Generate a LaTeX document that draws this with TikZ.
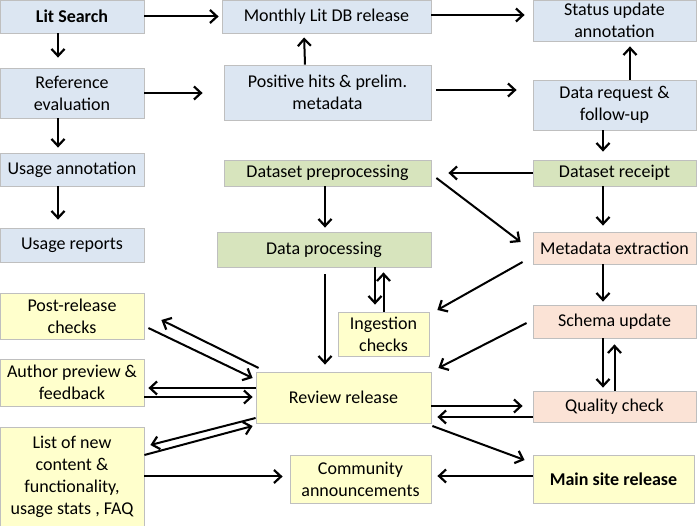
\documentclass[tikz,border=0pt]{standalone}
\usepackage{fontspec}
\setmainfont{Carlito}
\usetikzlibrary{arrows.meta}
\definecolor{bbl}{HTML}{DCE6F2}
\definecolor{bgr}{HTML}{D7E4BD}
\definecolor{bpe}{HTML}{FBE3D6}
\definecolor{bye}{HTML}{FFFFCC}
\definecolor{bdr}{HTML}{BFBFBF}
\tikzset{
  box/.style={draw=bdr, line width=0.8pt, inner sep=0pt, align=center,
    font=\fontsize{18}{22}\selectfont},
  bl/.style={box, fill=bbl}, gr/.style={box, fill=bgr},
  pe/.style={box, fill=bpe}, ye/.style={box, fill=bye},
  arr/.style={line width=2pt, -{Straight Barb[length=7pt,width=13pt,line width=2.2pt]}}
}
\begin{document}
\begin{tikzpicture}[x=1pt,y=-1pt]
\useasboundingbox (0,0) rectangle (697,526);
% nodes
\node[bl, minimum width=144pt, minimum height=33pt, font=\fontsize{18}{22}\selectfont\bfseries] (lit) at (72,16.5) {Lit Search};
\node[bl, minimum width=209pt, minimum height=33pt] (monthly) at (326.5,16.5) {Monthly Lit DB release};
\node[bl, minimum width=163pt, minimum height=41pt] (status) at (614.5,20.5) {Status update\\annotation};
\node[bl, minimum width=144pt, minimum height=50pt] (refev) at (72,93) {Reference\\evaluation};
\node[bl, minimum width=207pt, minimum height=55pt] (poshits) at (327.5,92.5) {Positive hits \& prelim.\\metadata};
\node[bl, minimum width=163pt, minimum height=50pt] (datareq) at (614.5,105) {Data request \&\\follow-up};
\node[bl, minimum width=144pt, minimum height=33pt] (usageann) at (72,169.5) {Usage annotation};
\node[gr, minimum width=207pt, minimum height=26pt] (dsprep) at (327.5,173) {Dataset preprocessing};
\node[gr, minimum width=163pt, minimum height=26pt] (dsreceipt) at (614.5,173) {Dataset receipt};
\node[bl, minimum width=144pt, minimum height=34pt] (usagerep) at (72,245) {Usage reports};
\node[gr, minimum width=214pt, minimum height=35pt] (dataproc) at (324,249.5) {Data processing};
\node[pe, minimum width=163pt, minimum height=32pt] (metaext) at (614.5,248) {Metadata extraction};
\node[ye, minimum width=144pt, minimum height=46pt] (postrel) at (72,316) {Post-release\\checks};
\node[ye, minimum width=91pt, minimum height=44pt] (ingest) at (383.5,334) {Ingestion\\checks};
\node[pe, minimum width=163pt, minimum height=33pt] (schema) at (614.5,321.5) {Schema update};
\node[ye, minimum width=144pt, minimum height=47pt] (author) at (72,382.5) {Author preview \&\\feedback};
\node[ye, minimum width=175pt, minimum height=51pt] (review) at (343.5,397.5) {Review release};
\node[pe, minimum width=163pt, minimum height=31pt] (quality) at (614.5,406.5) {Quality check};
\node[ye, minimum width=144pt, minimum height=99pt] (list) at (72,476.5) {List of new\\content \&\\functionality,\\usage stats , FAQ};
\node[ye, minimum width=141pt, minimum height=48pt] (community) at (360.5,479) {Community\\announcements};
\node[ye, minimum width=161pt, minimum height=48pt, font=\fontsize{18}{22}\selectfont\bfseries] (mainsite) at (613.5,479) {Main site release};
% connectors
\draw[arr, shorten >=3pt] (lit.east) -- (monthly.west);
\draw[arr, shorten >=10pt] ([xshift=-14pt]lit.south) -- ([xshift=-14pt]refev.north);
\draw[arr, shorten >=21pt] (refev.east) -- (refev.east -| poshits.west);
\draw[arr, shorten >=4pt] ([xshift=-22.5pt]poshits.north) -- ([xshift=-22.5pt]monthly.south);
\draw[arr, shorten >=8pt] ([yshift=1.5pt]monthly.east) -- ([yshift=1.5pt]monthly.east -| status.west);
\draw[arr, shorten <=5pt, shorten >=16pt] ([yshift=2.5pt]poshits.east) -- ([yshift=2.5pt]poshits.east -| datareq.west);
\draw[arr, shorten >=5pt] ([xshift=15.5pt]datareq.north) -- ([xshift=15.5pt]status.south);
\draw[arr, shorten >=8pt] ([xshift=-11.5pt]datareq.south) -- ([xshift=-11.5pt]dsreceipt.north);
\draw[arr, shorten >=5pt] ([xshift=-14pt]refev.south) -- ([xshift=-14pt]usageann.north);
\draw[arr, shorten >=8pt] ([xshift=-14pt]usageann.south) -- ([xshift=-14pt]usagerep.north);
\draw[arr, shorten >=17pt] (dsreceipt.west) -- (dsprep.east);
\draw[arr, shorten >=6pt] ([xshift=-11.5pt]dsreceipt.south) -- ([xshift=-11.5pt]metaext.north);
\draw[arr] ([shift={(5pt,-5pt)}]dsprep.east) -- ([shift={(-12pt,6pt)}]metaext.west);
\draw[arr, shorten >=4pt] ([xshift=-2.5pt]dsprep.south) -- ([xshift=-2.5pt]dsprep.south |- dataproc.north);
\draw[arr, shorten <=7pt, shorten >=7pt] ([xshift=1pt]dataproc.south) -- ([xshift=1pt]dataproc.south |- review.north);
\draw[arr, shorten >=7pt] ([xshift=51pt]dataproc.south) -- ([xshift=-8.5pt]ingest.north);
\draw[arr, shorten >=5pt] (ingest.north) -- ([xshift=59.5pt]dataproc.south);
\draw[arr] ([shift={(-10pt,-14pt)}]metaext.west) -- ([shift={(8pt,24pt)}]ingest.east);
\draw[arr, shorten >=3pt] ([xshift=-11.5pt]metaext.south) -- ([xshift=-11.5pt]schema.north);
\draw[arr] ([shift={(-6pt,-1.5pt)}]schema.west) -- ([shift={(7pt,29.5pt)}]review.east);
\draw[arr, shorten >=3pt] ([xshift=-11.5pt]schema.south) -- ([xshift=-11.5pt]quality.north);
\draw[arr, shorten >=6pt] (quality.north) -- (schema.south);
\draw[arr, shorten >=10pt] ([yshift=-8.5pt]review.east) -- ([yshift=-8.5pt]review.east -| quality.west);
\draw[arr, shorten >=6pt] ([yshift=-10.5pt]quality.west) -- ([yshift=-10.5pt]quality.west -| review.east);
\draw[arr] ([shift={(1pt,-28.5pt)}]review.east) -- ([shift={(-8pt,19pt)}]mainsite.west);
\draw[arr, shorten >=6pt] ([yshift=3pt]mainsite.west) -- ([yshift=3pt]mainsite.west -| community.east);
\draw[arr] ([shift={(3pt,29.5pt)}]review.west) -- ([shift={(17pt,-4pt)}]postrel.east);
\draw[arr] ([shift={(4pt,-12pt)}]postrel.east) -- ([shift={(-3pt,19.5pt)}]review.west);
\draw[arr, shorten >=4pt] ([yshift=9.5pt]review.west) -- ([yshift=9.5pt]review.west -| author.east);
\draw[arr, shorten >=3pt] ([yshift=-14.5pt]author.east) -- ([yshift=-14.5pt]author.east -| review.west);
\draw[arr] ([yshift=-20.5pt]review.west) -- ([shift={(6pt,31.5pt)}]list.east);
\draw[arr] ([yshift=21.5pt]list.east) -- ([shift={(-3pt,-28.5pt)}]review.west);
\draw[arr, shorten >=7pt] (list.east) -- (list.east -| community.west);
\end{tikzpicture}
\end{document}
